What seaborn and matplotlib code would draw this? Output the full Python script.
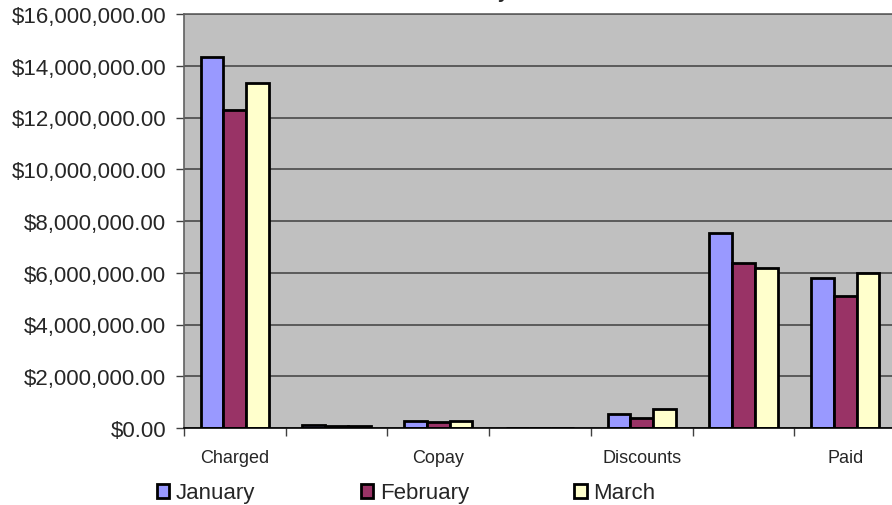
import pandas as pd
import matplotlib
matplotlib.use('Agg')
import matplotlib.pyplot as plt
import seaborn as sns
from matplotlib.ticker import FuncFormatter
from matplotlib.patches import Patch

# данные
categories = ['Charged', 'Coinsurance', 'Copay', 'Deductible', 'Discounts', 'Not Covered', 'Paid']
months = ['January', 'February', 'March']
january = [14340000, 130000, 270000, 0, 550000, 7520000, 5790000]
february = [12290000, 90000, 230000, 0, 400000, 6360000, 5110000]
march = [13320000, 90000, 270000, 0, 730000, 6170000, 5990000]
colors = ['#9999FF', '#993366', '#FFFFCC']

rows = []
for m, vals in zip(months, [january, february, march]):
    for c, v in zip(categories, vals):
        rows.append({'category': c, 'month': m, 'value': v})
df = pd.DataFrame(rows)

sns.set_style('white')
plt.rcParams['font.family'] = ['Liberation Sans', 'DejaVu Sans']

fig = plt.figure(figsize=(8.92, 5.06), dpi=100)
ax = fig.add_axes([184 / 892, 77 / 506, 712 / 892, 414 / 506])
ax.set_facecolor('#C0C0C0')

sns.barplot(data=df, x='category', y='value', hue='month', order=categories,
            hue_order=months, palette=colors, saturation=1, width=0.67,
            edgecolor='black', linewidth=2, ax=ax, legend=False)

ax.set_ylim(0, 16000000)
ax.set_xlim(-0.5, len(categories) - 0.5)
ax.set_yticks(range(0, 16000001, 2000000))
ax.yaxis.set_major_formatter(FuncFormatter(lambda v, p: '${:,.2f}'.format(v)))
ax.grid(axis='y', color='#404040', linewidth=1.1)
ax.set_axisbelow(True)

# тики между группами, подписи через одну
ax.set_xticks([i - 0.5 for i in range(len(categories) + 1)])
ax.set_xticklabels([])
ax.set_xticks([0, 2, 4, 6], minor=True)
ax.set_xticklabels([categories[i] for i in [0, 2, 4, 6]], minor=True)
ax.tick_params(axis='x', which='major', length=6, width=1, color='#404040', direction='out', bottom=True)
ax.tick_params(axis='x', which='minor', length=0, pad=15, labelsize=13)
ax.tick_params(axis='y', length=6, width=1, color='#404040', direction='out', left=True, pad=7, labelsize=16)
ax.set_xlabel('')
ax.set_ylabel('')

for s in ['left', 'top']:
    ax.spines[s].set_color('#606060')
    ax.spines[s].set_linewidth(1.2)
ax.spines['bottom'].set_color('black')
ax.spines['bottom'].set_linewidth(1.2)
ax.spines['right'].set_visible(False)

handles = [Patch(facecolor=c, edgecolor='black', linewidth=2) for c in colors]
fig.legend(handles, months, loc='center left', bbox_to_anchor=(157 / 892, 1 - 494 / 506),
           ncol=3, frameon=False, fontsize=16, handlelength=0.55, handleheight=0.6,
           handletextpad=0.3, columnspacing=4.75, borderpad=0, borderaxespad=0)

# заголовок почти целиком за верхним краем, как на исходнике
fig.text(502 / 892, 1 + 2 / 506, 'Monthly Totals', ha='center', va='baseline',
         fontsize=14, fontweight='bold')

fig.savefig('out.png', dpi=100)
